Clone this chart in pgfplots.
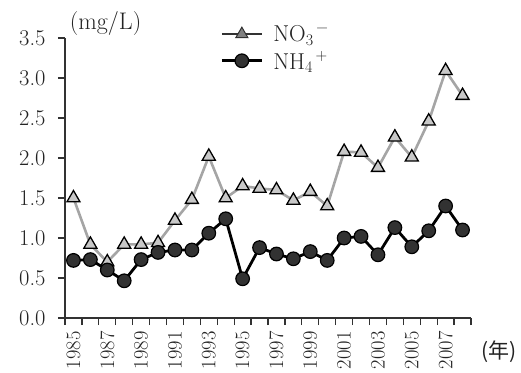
\documentclass[border=0pt]{standalone}
\usepackage{pgfplots}
\pgfplotsset{compat=1.18}
\usepackage{fontspec}
\newfontfamily\cjk{Noto Sans CJK JP}
\definecolor{nogray}{RGB}{165,165,165}
\definecolor{trifill}{RGB}{200,200,200}
\definecolor{axgray}{RGB}{50,50,50}
\definecolor{txt}{RGB}{35,35,35}
\begin{document}
\begin{tikzpicture}
\begin{axis}[
  name=ax,
  scale only axis,
  width=406pt, height=280pt,
  xmin=-0.5, xmax=23.5,
  ymin=0, ymax=3.5,
  axis x line=bottom, axis y line=left,
  axis line style={-, line width=1.6pt, color=axgray},
  /pgf/number format/assume math mode=true,
  ytick={0,0.5,...,3.5},
  yticklabel style={/pgf/number format/fixed, /pgf/number format/fixed zerofill, /pgf/number format/precision=1, xshift=-9pt, font=\fontsize{22.5}{24}\selectfont},
  xtick={-0.5,0.5,...,23.5},
  xticklabels={},
  extra x ticks={0,2,...,22},
  extra x tick labels={1985,1987,1989,1991,1993,1995,1997,1999,2001,2003,2005,2007},
  extra x tick style={major tick length=0pt, tick label style={font=\fontsize{20.5}{22}\selectfont, anchor=east, rotate=90, xshift=-10pt}},
  tick align=outside,
  major tick length=7pt,
  tick style={line width=1.2pt, color=axgray},
  ticklabel style={text=txt},
  clip=false,
  legend style={at={(rel axis cs:0.375,1.06)}, anchor=north west, draw=none, fill=none,
    font=\fontsize{23}{25}\selectfont, text=txt, row sep=4pt,
    legend cell align=left, /tikz/every odd column/.append style={column sep=8pt}},
  legend image code/.code={\draw[mark repeat=2,mark phase=2,#1] plot coordinates {(0pt,0pt)(20pt,0pt)(40pt,0pt)};},
]
\addplot[color=nogray, line width=2.6pt, mark=triangle*, mark size=7.5pt,
  mark options={draw=black, fill=trifill, line width=1.3pt}, forget plot]
  coordinates {
  (0,1.50)(1,0.92)(2,0.70)(3,0.92)(4,0.92)(5,0.94)(6,1.22)(7,1.48)(8,2.02)(9,1.50)
  (10,1.65)(11,1.62)(12,1.60)(13,1.47)(14,1.58)(15,1.40)(16,2.08)(17,2.07)(18,1.88)
  (19,2.26)(20,2.01)(21,2.46)(22,3.09)(23,2.78)};
\addlegendimage{color=axgray, line width=2.6pt, mark=triangle*, mark size=7pt,
  mark options={draw=axgray, fill=gray, line width=1pt}}
\addlegendentry{NO\textsubscript{3}\textsuperscript{\,−}}
\addplot[color=black, line width=2.8pt, mark=*, mark size=6.8pt,
  mark options={draw=black, fill=axgray, line width=1.2pt}]
  coordinates {
  (0,0.72)(1,0.73)(2,0.60)(3,0.465)(4,0.73)(5,0.82)(6,0.85)(7,0.85)(8,1.06)(9,1.24)
  (10,0.49)(11,0.88)(12,0.80)(13,0.74)(14,0.83)(15,0.72)(16,1.00)(17,1.02)(18,0.79)
  (19,1.13)(20,0.89)(21,1.09)(22,1.40)(23,1.10)};
\addlegendentry{NH\textsubscript{4}\textsuperscript{\,+}}
\node[font=\fontsize{24}{26}\selectfont, text=txt] at (rel axis cs:0.10,1.05) {(mg/L)};
\node[font=\fontsize{21}{23}\cjk, text=txt] at (rel axis cs:1.069,-0.12) {(年)};
\end{axis}
\path (ax.south west) ++(-65pt,-54pt) rectangle ++(521pt,372pt);
\end{tikzpicture}
\end{document}
